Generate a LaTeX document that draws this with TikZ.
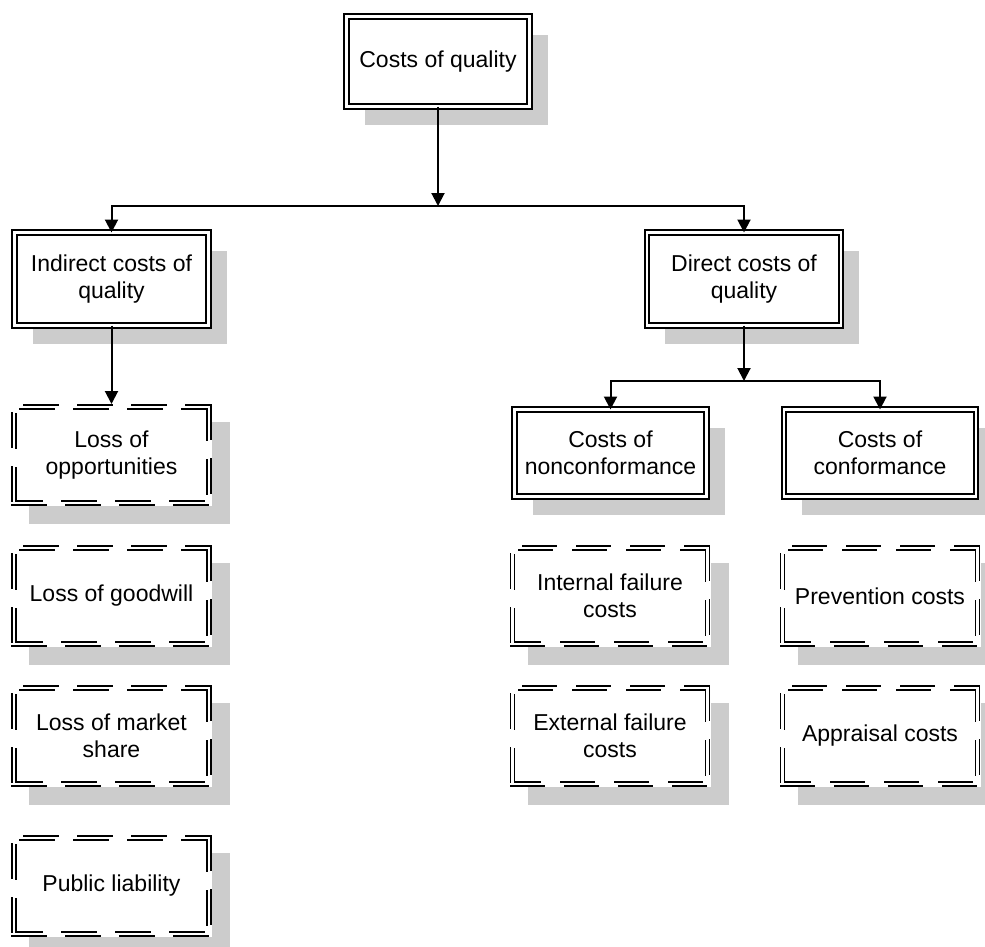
\documentclass[tikz,border=0pt]{standalone}
\usepackage{fontspec}
\setmainfont{Liberation Sans}
\usetikzlibrary{arrows.meta,shadows,calc}
\begin{document}
\begin{tikzpicture}[x=1pt,y=-1pt,
  base/.style={fill=white, align=center, inner sep=0pt, outer sep=0pt,
    font=\fontsize{23}{27}\selectfont,
    drop shadow={shadow xshift=18pt, shadow yshift=-18pt, fill=black!20, opacity=1}},
  solidbox/.style={base, draw, line width=2pt, double=white, double distance=2.4pt},
  dashbox/.style={base, minimum width=201pt, minimum height=102pt},
  dl/.style={line width=1.9pt, dash pattern=on 34pt off 20pt, line cap=rect},
  conn/.style={line width=2pt, -{Triangle[length=13pt,width=13pt]}},
  both/.style={line width=2pt, {Triangle[length=13pt,width=13pt]}-{Triangle[length=13pt,width=13pt]}, line join=miter}
]
\useasboundingbox (0,0) rectangle (985,946);

% solid double boxes
\node[solidbox, minimum width=183pt, minimum height=90pt] (top) at (438,61.5) {Costs of quality};
\node[solidbox, minimum width=194pt, minimum height=93pt] (ind) at (111.5,279) {Indirect costs of\\quality};
\node[solidbox, minimum width=194pt, minimum height=93pt] (dir) at (744,279) {Direct costs of\\quality};
\node[solidbox, minimum width=192pt, minimum height=87pt] (nc) at (610.5,453) {Costs of\\nonconformance};
\node[solidbox, minimum width=192pt, minimum height=87pt] (cf) at (880,453) {Costs of\\conformance};

% dashed double boxes
\node[dashbox] (opp) at (111.5,455) {Loss of\\opportunities};
\node[dashbox] (good) at (111.5,596) {Loss of goodwill};
\node[dashbox] (mkt) at (111.5,736) {Loss of market\\share};
\node[dashbox] (pub) at (111.5,886) {Public liability};
\node[dashbox] (int) at (610,596) {Internal failure\\costs};
\node[dashbox] (ext) at (610,736) {External failure\\costs};
\node[dashbox] (prev) at (880,596) {Prevention costs};
\node[dashbox] (appr) at (880,736) {Appraisal costs};

\foreach \n in {opp,good,mkt,pub,int,ext,prev,appr}{
  \foreach \d/\pt/\pl/\pr/\pb in {1/42/46/0/0, 5/50/49/3/8}{
    \coordinate (tl) at ($(\n.north west)+(\d,\d)$);
    \coordinate (tr) at ($(\n.north east)+(-\d,\d)$);
    \coordinate (br) at ($(\n.south east)+(-\d,-\d)$);
    \coordinate (bl) at ($(\n.south west)+(\d,-\d)$);
    \draw[dl, dash phase=\pt pt] (tl) -- (tr);
    \draw[dl, dash phase=\pl pt] (tl) -- (bl);
    \draw[dl, dash phase=\pr pt] (tr) -- (br);
    \draw[dl, dash phase=\pb pt] (bl) -- (br);
  }
}

% connectors
\coordinate (j1) at (top.south |- 0,206);
\coordinate (j2) at (dir.south |- 0,381);
\draw[conn] (top.south) -- (j1);
\draw[both] (ind.north) -- (j1 -| ind.north) -- (j1 -| dir.north) -- (dir.north);
\draw[conn] (dir.south) -- (j2);
\draw[both] (nc.north) -- (j2 -| nc.north) -- (j2 -| cf.north) -- (cf.north);
\draw[conn] (ind.south) -- (opp.north);
\end{tikzpicture}
\end{document}
